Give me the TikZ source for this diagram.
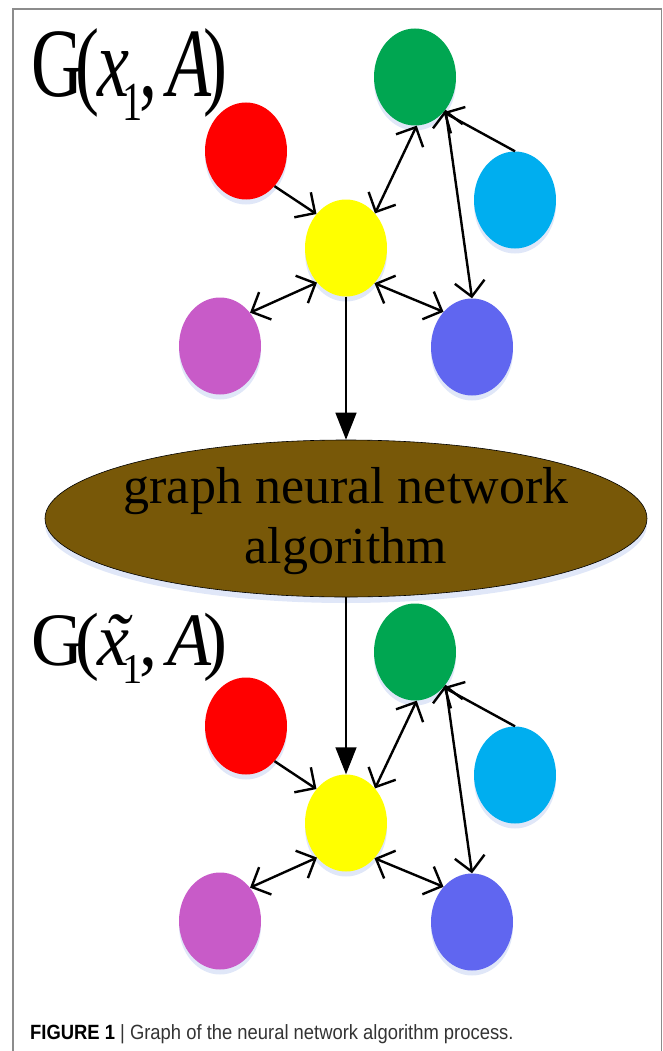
\documentclass[tikz,border=0pt]{standalone}
\usepackage{fontspec}
\setmainfont{Liberation Serif}
\newfontfamily\capfont{Liberation Sans}
\usetikzlibrary{arrows.meta,shapes.geometric,shadows}
\definecolor{nred}{HTML}{FF0000}
\definecolor{ngreen}{HTML}{00A651}
\definecolor{ncyan}{HTML}{00AEEF}
\definecolor{nyellow}{HTML}{FFFF00}
\definecolor{nviolet}{HTML}{C85BC8}
\definecolor{nblue}{HTML}{6066F0}
\definecolor{algobrown}{HTML}{785808}
\definecolor{glow}{HTML}{D3DDF5}
\definecolor{framegray}{HTML}{8C8C8C}

% G(x_1,A), set tight as in the figure
\newcommand\glabel[1]{G\kern-.1em(\kern-.03em\textit{#1}\kern-.1em%
  \raisebox{-.24em}{\fontsize{55}{55}\selectfont 1}\kern-.04em,\kern.14em\textit{A}\kern-.12em)}

\tikzset{
  vertex/.style={ellipse, minimum width=82pt, minimum height=97pt, inner sep=0pt,
    drop shadow={shadow xshift=0pt, shadow yshift=-5pt, fill=glow, opacity=.7}},
  link/.style={line width=2.4pt, <->},
  onto/.style={line width=2.4pt, ->},
  flow/.style={line width=1.4pt, -{Triangle[length=27pt,width=21pt]}},
  glabelfont/.style={anchor=base west, inner sep=0pt, xscale=.735, font=\fontsize{98}{98}\selectfont},
  >={Straight Barb[length=15pt,width=30pt]}
}

\begin{document}
\begin{tikzpicture}[x=1pt, y=-1pt]
  \useasboundingbox (0,0) rectangle (663,1051);

  % frame
  \draw[framegray, line width=1.2pt] (13,1051) -- (13,9) -- (661.5,9) -- (661.5,1051);

  % the same graph before and after the algorithm
  \foreach \g/\dy in {t/0,b/575} {
    \begin{scope}[shift={(0,\dy)}]
      \node[vertex, fill=ngreen] (\g-green) at (415,77) {};
      \node[vertex, fill=nred] (\g-red) at (246,151) {};
      \node[vertex, fill=ncyan] (\g-cyan) at (515,200) {};
      \node[vertex, fill=nyellow] (\g-yellow) at (346,248) {};
      \node[vertex, fill=nviolet] (\g-violet) at (220,346) {};
      \node[vertex, fill=nblue] (\g-blue) at (472,347) {};

      \draw[onto] (\g-red.-51) -- (\g-yellow.131);
      \draw[link] (\g-green.-88) -- (\g-yellow.50);
      \draw[onto] (\g-cyan.90) -- (\g-green.-51);
      \draw[link] (\g-green.-47) -- (\g-blue.90);
      \draw[link] (\g-yellow.-130) -- (\g-violet.48);
      \draw[link] (\g-yellow.-51) -- (\g-blue.129);
    \end{scope}
  }

  % labels
  \node[glabelfont] (lbl-in) at (31,97) {\glabel{x}};
  \node[glabelfont, yscale=.77] (lbl-out) at (31,665)
    {\glabel{\makebox[0pt][l]{\hspace{.1em}\char"02DC}x}};

  % algorithm
  \node[ellipse, fill=algobrown, draw=black, line width=.6pt, minimum width=602pt,
    minimum height=157pt, inner sep=0pt,
    drop shadow={shadow xshift=0pt, shadow yshift=-6pt, fill=glow, opacity=.7}]
    (algo) at (346,518.5) {};
  \node[align=center, inner sep=0pt, font=\fontsize{52}{60}\selectfont]
    (algo-text) at (346,521.5) {graph neural network\\algorithm};

  \draw[flow] (t-yellow.south) -- (algo.north);
  \draw[flow] (algo.south) -- (b-yellow.north);

  % caption
  \node[anchor=base west, inner sep=0pt, yscale=1.12, font=\capfont\fontsize{18.4}{18.4}\selectfont]
    (caption) at (30,1039) {\textbf{FIGURE 1} \textcolor{black!80}{| Graph of the neural network algorithm process.}};
\end{tikzpicture}
\end{document}
